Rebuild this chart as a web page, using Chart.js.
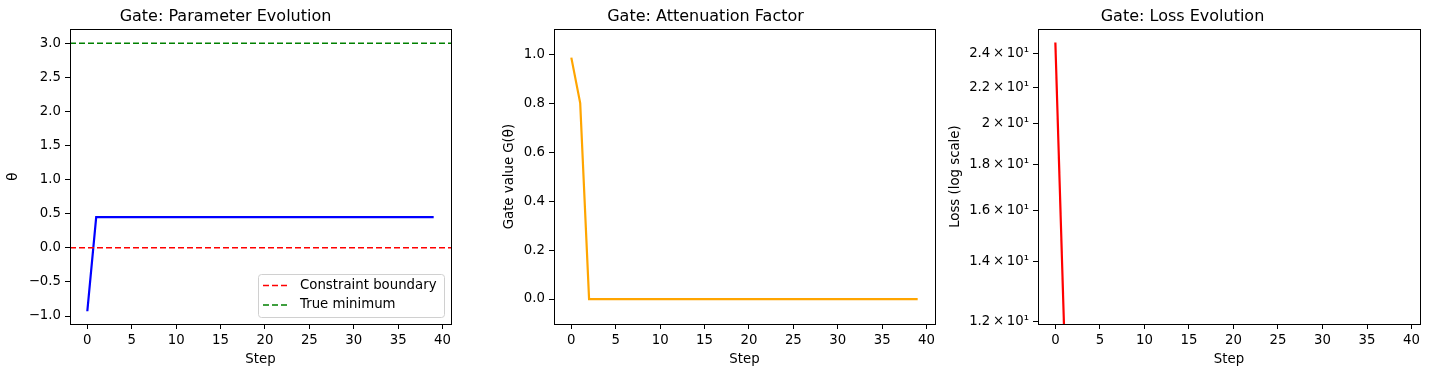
<!DOCTYPE html>
<html>
<head>
<meta charset="utf-8">
<title>Gate</title>
<script src="https://cdn.jsdelivr.net/npm/chart.js@4.4.1/dist/chart.umd.min.js"></script>
<style>
    body { margin: 0; background: #fff; }
    #wrap { position: relative; width: 1429px; height: 374px; }
    #wrap canvas { position: absolute; top: 0; }
</style>
</head>
<body>
<div id="wrap">
    <canvas id="graficoTheta" width="470" height="374" style="left:0px"></canvas>
    <canvas id="graficoGate" width="469" height="374" style="left:476px"></canvas>
    <canvas id="graficoLoss" width="484" height="374" style="left:945px"></canvas>
</div>
<script>
// ---- datos ----
const steps = [0, 1, 2, 3, 4, 5, 6, 7, 8, 9, 10, 11, 12, 13, 14, 15, 16, 17, 18, 19,
               20, 21, 22, 23, 24, 25, 26, 27, 28, 29, 30, 31, 32, 33, 34, 35, 36, 37, 38, 39];

const thetaValues = [-0.93, 0.45, 0.45, 0.45, 0.45, 0.45, 0.45, 0.45, 0.45, 0.45,
                     0.45, 0.45, 0.45, 0.45, 0.45, 0.45, 0.45, 0.45, 0.45, 0.45,
                     0.45, 0.45, 0.45, 0.45, 0.45, 0.45, 0.45, 0.45, 0.45, 0.45,
                     0.45, 0.45, 0.45, 0.45, 0.45, 0.45, 0.45, 0.45, 0.45, 0.45];

const gateValues = [0.986, 0.80, 0.0, 0.0, 0.0, 0.0, 0.0, 0.0, 0.0, 0.0,
                    0.0, 0.0, 0.0, 0.0, 0.0, 0.0, 0.0, 0.0, 0.0, 0.0,
                    0.0, 0.0, 0.0, 0.0, 0.0, 0.0, 0.0, 0.0, 0.0, 0.0,
                    0.0, 0.0, 0.0, 0.0, 0.0, 0.0, 0.0, 0.0, 0.0, 0.0];

// only the first two losses are visible on the log axis
const lossValues = [24.7, 11.6];

const constraintBoundary = 0;
const trueMinimum = 3;

const xTicks = [0, 5, 10, 15, 20, 25, 30, 35, 40];
const thetaTicks = [-1.0, -0.5, 0.0, 0.5, 1.0, 1.5, 2.0, 2.5, 3.0];
const gateTicks = [0.0, 0.2, 0.4, 0.6, 0.8, 1.0];
const lossTicks = [12, 14, 16, 18, 20, 22, 24];

const xMin = -1.95, xMax = 40.95;

Chart.defaults.font.family = "'DejaVu Sans', sans-serif";
Chart.defaults.font.size = 13.3;
Chart.defaults.color = '#000';

// marco completo alrededor del área
const marco = {
    id: 'marco',
    afterDraw(chart) {
        const { ctx, chartArea: a } = chart;
        const l = Math.round(a.left), t = Math.round(a.top);
        const r = Math.round(a.right), b = Math.round(a.bottom);
        ctx.save();
        ctx.strokeStyle = '#000';
        ctx.lineWidth = 1;
        ctx.strokeRect(l + 0.5, t + 0.5, r - l, b - t);
        ctx.restore();
    }
};

// leyenda dentro del área (abajo a la derecha)
const leyendaInterna = {
    id: 'leyendaInterna',
    afterDatasetsDraw(chart, args, opts) {
        if (!opts.display) return;
        const { ctx, chartArea: a } = chart;
        const items = chart.data.datasets.filter(d => d.enLeyenda);
        const w = 186, rowH = 19.5, h = 43;
        const x = Math.round(a.right - 7 - w);
        const y = Math.round(a.bottom - 7 - h);
        ctx.save();
        ctx.beginPath();
        ctx.roundRect(x + 0.5, y + 0.5, w, h, 3);
        ctx.fillStyle = 'rgba(255,255,255,0.8)';
        ctx.fill();
        ctx.strokeStyle = '#d0d0d0';
        ctx.lineWidth = 1;
        ctx.stroke();
        ctx.font = "13.3px 'DejaVu Sans'";
        ctx.textBaseline = 'middle';
        items.forEach((d, i) => {
            const cy = y + 11.5 + i * rowH;
            ctx.beginPath();
            ctx.setLineDash(d.borderDash || []);
            ctx.strokeStyle = d.borderColor;
            ctx.lineWidth = d.borderWidth;
            ctx.moveTo(x + 5, cy);
            ctx.lineTo(x + 32, cy);
            ctx.stroke();
            ctx.setLineDash([]);
            ctx.fillStyle = '#000';
            ctx.fillText(d.label, x + 42, cy);
        });
        ctx.restore();
    }
};

function ejeX(height) {
    return {
        type: 'linear',
        min: xMin,
        max: xMax,
        afterBuildTicks: s => { s.ticks = xTicks.map(v => ({ value: v })); },
        afterFit: s => { s.height = height; },
        ticks: { padding: 4, maxRotation: 0, callback: v => String(v) },
        grid: { drawOnChartArea: false, drawTicks: true, tickLength: 5, color: '#000' },
        border: { display: false },
        title: { display: true, text: 'Step', padding: { top: 0, bottom: 6.5 } }
    };
}

function ejeY(width, titulo, tituloPad, tickList, fmt, extra) {
    return Object.assign({
        type: 'linear',
        afterBuildTicks: s => { s.ticks = tickList.map(v => ({ value: v })); },
        afterFit: s => { s.width = width; },
        ticks: { padding: 4, callback: fmt },
        grid: { drawOnChartArea: false, drawTicks: true, tickLength: 5, color: '#000' },
        border: { display: false },
        title: { display: true, text: titulo, padding: { top: tituloPad, bottom: 0 } }
    }, extra);
}

function titulo(text) {
    return {
        display: true,
        text: text,
        color: '#000',
        font: { size: 16, weight: 'normal' },
        padding: { top: 7, bottom: 3 }
    };
}

const fmtDecimal = v => v.toFixed(1).replace('-', '\u2212');

// Gráfico: evolución del parámetro
new Chart(document.getElementById('graficoTheta').getContext('2d'), {
    type: 'line',
    data: {
        datasets: [{
            label: 'θ',
            data: steps.map((s, i) => ({ x: s, y: thetaValues[i] })),
            borderColor: '#0000ff',
            borderWidth: 2.2,
            pointRadius: 0,
            order: 2
        }, {
            label: 'Constraint boundary',
            enLeyenda: true,
            data: [{ x: xMin, y: constraintBoundary }, { x: xMax, y: constraintBoundary }],
            borderColor: '#ff0000',
            borderWidth: 1.6,
            borderDash: [6, 3],
            pointRadius: 0,
            order: 0
        }, {
            label: 'True minimum',
            enLeyenda: true,
            data: [{ x: xMin, y: trueMinimum }, { x: xMax, y: trueMinimum }],
            borderColor: '#008000',
            borderWidth: 1.6,
            borderDash: [6, 3],
            pointRadius: 0,
            order: 0
        }]
    },
    options: {
        responsive: false,
        animation: false,
        layout: { padding: { left: 0, right: 19, top: 0, bottom: 0 } },
        plugins: {
            legend: { display: false },
            tooltip: { enabled: false },
            title: titulo('Gate: Parameter Evolution'),
            leyendaInterna: { display: true }
        },
        scales: {
            x: ejeX(50),
            y: ejeY(70, 'θ', 6, thetaTicks, fmtDecimal, { min: -1.117, max: 3.205 })
        }
    },
    plugins: [marco, leyendaInterna]
});

// Gráfico: factor de atenuación
new Chart(document.getElementById('graficoGate').getContext('2d'), {
    type: 'line',
    data: {
        datasets: [{
            label: 'Gate value',
            data: steps.map((s, i) => ({ x: s, y: gateValues[i] })),
            borderColor: '#ffa500',
            borderWidth: 2.2,
            pointRadius: 0
        }]
    },
    options: {
        responsive: false,
        animation: false,
        layout: { padding: { left: 0, right: 10, top: 0, bottom: 0 } },
        plugins: {
            legend: { display: false },
            tooltip: { enabled: false },
            title: titulo('Gate: Attenuation Factor')
        },
        scales: {
            x: ejeX(50),
            y: ejeY(78, 'Gate value G(θ)', 26, gateTicks, fmtDecimal, { min: -0.102, max: 1.102 })
        }
    },
    plugins: [marco]
});

// Gráfico: evolución de la pérdida (escala log)
const fmtLog = v => {
    const m = v / 10;
    const txt = Number.isInteger(m) ? String(m) : m.toFixed(1);
    return txt + '\u2009\u00d7\u200910\u00b9';
};

new Chart(document.getElementById('graficoLoss').getContext('2d'), {
    type: 'line',
    data: {
        datasets: [{
            label: 'Loss',
            data: lossValues.map((v, i) => ({ x: steps[i], y: v })),
            borderColor: '#ff0000',
            borderWidth: 2.2,
            pointRadius: 0
        }]
    },
    options: {
        responsive: false,
        animation: false,
        layout: { padding: { left: 0, right: 9, top: 0, bottom: 0 } },
        plugins: {
            legend: { display: false },
            tooltip: { enabled: false },
            title: titulo('Gate: Loss Evolution')
        },
        scales: {
            x: ejeX(50),
            y: ejeY(93, 'Loss (log scale)', 3, lossTicks, fmtLog,
                { type: 'logarithmic', min: 11.92, max: 25.56 })
        }
    },
    plugins: [marco]
});
</script>
</body>
</html>
